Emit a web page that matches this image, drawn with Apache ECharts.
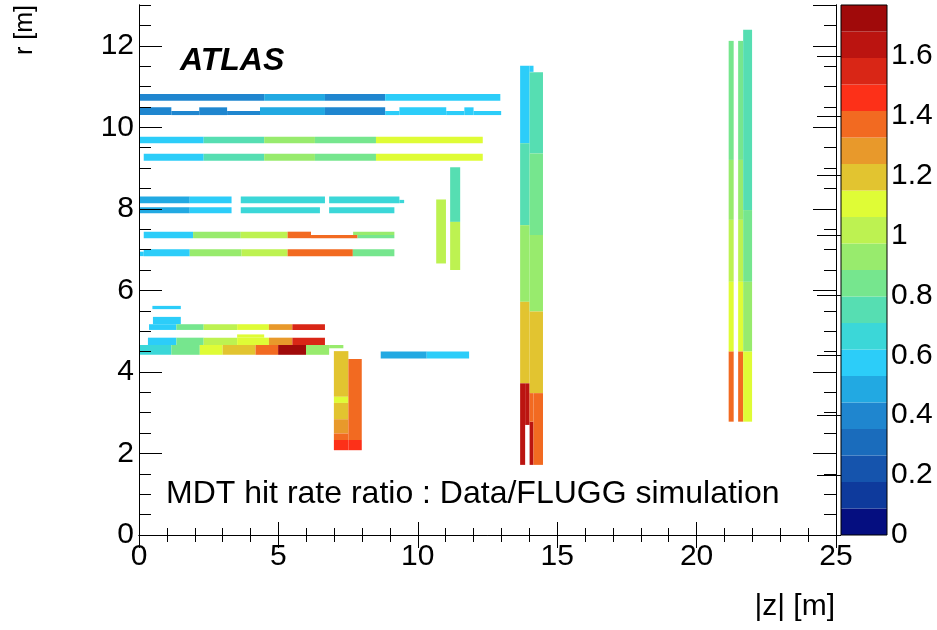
<!DOCTYPE html>
<html>
<head>
<meta charset="utf-8">
<script src="https://cdn.jsdelivr.net/npm/echarts@6/dist/echarts.min.js"></script>
<style>
  html, body { margin: 0; padding: 0; background: #fff; }
  #chart { width: 937px; height: 630px; }
</style>
</head>
<body>
<div id="chart"></div>
<script>
// ---------- DATA ----------
// Each chamber: [zMin, zMax, rMin, rMax, ratio]  (metres, Data/FLUGG ratio)
const barrelOuterTop = [
  [0.00, 4.49, 10.65, 10.82, 0.40], [4.49, 6.67, 10.65, 10.82, 0.49],
  [6.67, 8.83, 10.65, 10.82, 0.40], [8.83, 12.96, 10.65, 10.82, 0.575]
];
const barrelOuterBottom = [
  [0.00, 1.16, 10.30, 10.49, 0.40], [1.16, 2.16, 10.30, 10.40, 0.40],
  [2.16, 3.16, 10.30, 10.49, 0.40], [3.16, 4.34, 10.30, 10.40, 0.40],
  [4.34, 6.67, 10.30, 10.49, 0.49], [6.67, 8.83, 10.30, 10.49, 0.40],
  [8.83, 9.34, 10.30, 10.40, 0.575], [9.34, 11.02, 10.30, 10.49, 0.575],
  [11.02, 11.67, 10.30, 10.40, 0.575], [11.67, 12.00, 10.30, 10.49, 0.575],
  [12.00, 12.99, 10.30, 10.40, 0.575]
];
const barrelOuterLarge = [
  [0.00, 2.32, 9.61, 9.77, 0.575], [2.32, 4.49, 9.61, 9.77, 0.75],
  [4.49, 6.31, 9.61, 9.77, 0.93], [6.31, 8.50, 9.61, 9.77, 0.84],
  [8.50, 12.33, 9.61, 9.77, 1.11],
  [0.17, 2.32, 9.18, 9.35, 0.575], [2.32, 4.49, 9.18, 9.35, 0.75],
  [4.49, 6.31, 9.18, 9.35, 0.93], [6.31, 8.50, 9.18, 9.35, 0.84],
  [8.50, 12.33, 9.18, 9.35, 1.11]
];
const barrelMiddleSmall = [
  [0.00, 1.82, 8.14, 8.30, 0.49], [1.82, 3.32, 8.14, 8.30, 0.575],
  [3.65, 6.67, 8.14, 8.30, 0.66], [6.82, 9.34, 8.14, 8.30, 0.66],
  [9.34, 9.51, 8.14, 8.22, 0.66],
  [0.00, 1.82, 7.89, 8.04, 0.49], [1.82, 3.32, 7.89, 8.04, 0.575],
  [3.65, 6.49, 7.89, 8.04, 0.66], [6.82, 9.16, 7.89, 8.04, 0.66]
];
const barrelMiddleLarge = [
  [0.17, 1.94, 7.28, 7.44, 0.575], [1.94, 3.65, 7.28, 7.44, 0.93],
  [3.65, 5.33, 7.28, 7.44, 1.02], [5.33, 6.17, 7.28, 7.44, 1.37],
  [6.17, 7.84, 7.28, 7.36, 1.37], [7.68, 9.16, 7.36, 7.44, 0.93],
  [7.84, 9.16, 7.28, 7.36, 0.84],
  [0.00, 0.17, 6.84, 6.95, 0.575], [0.17, 1.82, 6.84, 7.01, 0.575],
  [1.82, 3.68, 6.84, 7.01, 0.93], [3.68, 5.33, 6.84, 7.01, 1.02],
  [5.33, 7.67, 6.84, 7.01, 1.37], [7.67, 9.16, 6.84, 7.01, 0.84]
];
const barrelInner = [
  [0.48, 1.50, 5.54, 5.62, 0.575],
  [0.50, 1.50, 5.17, 5.35, 0.575],
  [0.36, 1.34, 5.03, 5.17, 0.575], [1.34, 2.32, 5.03, 5.17, 0.84],
  [2.32, 3.52, 5.03, 5.17, 1.02], [3.52, 4.66, 5.03, 5.17, 1.11],
  [4.66, 5.50, 5.03, 5.17, 1.28], [5.50, 6.67, 5.03, 5.17, 1.55],
  [0.32, 1.34, 4.66, 4.84, 0.575], [1.34, 2.32, 4.66, 4.84, 0.84],
  [2.32, 3.52, 4.66, 4.84, 1.02], [3.52, 4.66, 4.66, 4.84, 1.11],
  [3.52, 4.49, 4.84, 4.92, 1.11], [4.66, 5.50, 4.66, 4.84, 1.28],
  [5.50, 6.67, 4.66, 4.84, 1.55],
  [0.00, 1.16, 4.42, 4.66, 0.66], [1.16, 2.18, 4.42, 4.66, 0.84],
  [2.18, 3.00, 4.42, 4.66, 1.11], [3.00, 4.18, 4.42, 4.66, 1.19],
  [4.18, 4.99, 4.42, 4.66, 1.37], [4.99, 5.99, 4.42, 4.66, 1.73],
  [5.99, 6.82, 4.42, 4.66, 0.93], [6.82, 7.33, 4.58, 4.66, 0.93]
];
const endcapInnerEE = [
  [6.99, 7.51, 3.39, 4.51, 1.19], [6.99, 7.51, 3.24, 3.39, 1.11],
  [6.99, 7.51, 2.84, 3.24, 1.19], [6.99, 7.51, 2.49, 2.84, 1.28],
  [6.99, 7.51, 2.33, 2.49, 1.37], [6.99, 7.51, 2.08, 2.33, 1.46],
  [7.51, 7.99, 2.33, 4.32, 1.37], [7.51, 7.99, 2.08, 2.33, 1.46],
  [8.67, 10.32, 4.33, 4.50, 0.49], [10.32, 11.84, 4.33, 4.50, 0.575],
  [10.66, 11.01, 6.66, 8.23, 1.02],
  [11.16, 11.52, 7.68, 9.02, 0.75], [11.16, 11.52, 6.50, 7.68, 1.02]
];
const endcapMiddle = [
  [13.67, 14.01, 9.61, 11.51, 0.575], [14.01, 14.15, 11.36, 11.51, 0.575],
  [13.67, 14.01, 7.60, 9.61, 0.75], [13.67, 14.01, 5.72, 7.60, 0.93],
  [13.67, 14.01, 3.72, 5.72, 1.19],
  [13.67, 13.85, 1.72, 3.72, 1.64], [13.85, 14.01, 2.70, 3.72, 1.64],
  [14.01, 14.49, 9.36, 11.35, 0.75], [14.01, 14.49, 7.36, 9.36, 0.84],
  [14.01, 14.49, 5.48, 7.36, 0.93], [14.01, 14.49, 3.48, 5.48, 1.19],
  [14.01, 14.15, 1.72, 2.78, 1.64], [14.01, 14.15, 2.78, 3.48, 1.37],
  [14.15, 14.49, 1.72, 3.48, 1.37]
];
const endcapOuter = [
  [21.15, 21.33, 9.20, 12.12, 0.84], [21.15, 21.33, 7.73, 9.20, 0.93],
  [21.15, 21.33, 6.21, 7.73, 1.02], [21.15, 21.33, 4.50, 6.21, 1.11],
  [21.15, 21.33, 2.78, 4.50, 1.37],
  [21.49, 21.67, 9.20, 12.12, 0.84], [21.49, 21.67, 7.73, 9.20, 0.93],
  [21.49, 21.67, 6.21, 7.73, 1.02], [21.49, 21.67, 4.50, 6.21, 1.11],
  [21.49, 21.67, 2.78, 4.50, 1.37],
  [21.67, 21.99, 7.97, 12.39, 0.75], [21.67, 21.99, 6.21, 7.97, 0.84],
  [21.67, 21.99, 4.50, 6.21, 0.93], [21.67, 21.99, 2.78, 4.50, 1.11]
];

// Axis ranges and tick steps
const zRange = [0, 25];
const rRange = [0, 13];
const ratioRange = [0, 1.77];
const zMajor = 5, rMajor = 2, rMinor = 0.5, ratioMajor = 0.2;

// ROOT-style 20-step rainbow palette (low -> high)
const palette = [
  '#050e80', '#0e3a9c', '#1554ad', '#1a6cbc', '#1f86cf',
  '#22a9e2', '#2ccdf9', '#3bd7d8', '#56deb2', '#76e68e',
  '#98eb6d', '#bdf251', '#dffc36', '#e2c430', '#e8992b',
  '#f26a21', '#fd3018', '#d92616', '#bb1410', '#a00a0a'
];

// ---------- CHART ----------
const chambers = [].concat(barrelOuterTop, barrelOuterBottom, barrelOuterLarge,
  barrelMiddleSmall, barrelMiddleLarge, barrelInner, endcapInnerEE, endcapMiddle, endcapOuter);
const bw = (ratioRange[1] - ratioRange[0]) / palette.length;
const bands = palette.map((c, i) => [ratioRange[0] + i * bw, ratioRange[0] + (i + 1) * bw]);

const FONT = 'Liberation Sans';
const black = '#000';
const labelStyle = { fontSize: 30, color: black, fontFamily: FONT };

function frameAxis(extra) {
  return Object.assign({
    type: 'value', z: 10,
    axisLine: { show: true, lineStyle: { color: black, width: 1 } },
    splitLine: { show: false },
    axisLabel: { show: false }
  }, extra);
}

const chart = echarts.init(document.getElementById('chart'), null, { renderer: 'canvas' });
chart.setOption({
  animation: false,
  backgroundColor: '#fff',
  grid: [
    { left: 139, right: 101, top: 5, bottom: 95, containLabel: false },
    { left: 841, right: 50, top: 5, bottom: 95, show: true, borderColor: black, borderWidth: 1,
      backgroundColor: 'transparent', z: 10 }
  ],
  xAxis: [
    frameAxis({ gridIndex: 0, position: 'bottom', min: zRange[0], max: zRange[1], interval: zMajor,
      axisTick: { inside: true, length: 13, lineStyle: { color: black } },
      minorTick: { show: true, splitNumber: 5, length: 7, lineStyle: { color: black } },
      axisLabel: Object.assign({ show: true, margin: 7 }, labelStyle) }),
    frameAxis({ gridIndex: 0, position: 'top', min: zRange[0], max: zRange[1], interval: zMajor,
      axisTick: { inside: true, length: 13, lineStyle: { color: black } },
      minorTick: { show: true, splitNumber: 5, length: 7, lineStyle: { color: black } } }),
    { gridIndex: 1, type: 'value', min: 0, max: 1, show: false }
  ],
  yAxis: [
    frameAxis({ gridIndex: 0, position: 'left', min: rRange[0], max: rRange[1], interval: rMajor,
      axisTick: { inside: true, length: 23, lineStyle: { color: black } },
      axisLabel: Object.assign({ show: true, margin: 5, showMaxLabel: false }, labelStyle) }),
    frameAxis({ gridIndex: 0, position: 'left', min: rRange[0], max: rRange[1], interval: rMinor,
      axisTick: { inside: true, length: 12, lineStyle: { color: black } } }),
    frameAxis({ gridIndex: 0, position: 'right', min: rRange[0], max: rRange[1], interval: rMajor,
      axisTick: { inside: true, length: 23, lineStyle: { color: black } } }),
    frameAxis({ gridIndex: 0, position: 'right', min: rRange[0], max: rRange[1], interval: rMinor,
      axisTick: { inside: true, length: 12, lineStyle: { color: black } } }),
    { gridIndex: 1, type: 'value', position: 'right', min: ratioRange[0], max: ratioRange[1],
      interval: ratioMajor, z: 11,
      axisLine: { show: false }, splitLine: { show: false },
      axisTick: { inside: true, length: 24, lineStyle: { color: black } },
      axisLabel: Object.assign({ margin: 4, showMaxLabel: false }, labelStyle) }
  ],
  visualMap: {
    type: 'piecewise', show: false, dimension: 4, seriesIndex: 0,
    pieces: bands.map((b, i) => ({ gte: b[0], lt: b[1], color: palette[i] }))
  },
  series: [
    {
      type: 'custom', name: 'MDT chambers', xAxisIndex: 0, yAxisIndex: 0,
      encode: { x: [0, 1], y: [2, 3] },
      data: chambers,
      renderItem: function (params, api) {
        const p0 = api.coord([api.value(0), api.value(3)]);
        const p1 = api.coord([api.value(1), api.value(2)]);
        return {
          type: 'rect',
          shape: { x: p0[0], y: p0[1], width: p1[0] - p0[0], height: p1[1] - p0[1] },
          style: { fill: api.visual('color') }
        };
      }
    },
    {
      type: 'custom', name: 'palette', xAxisIndex: 2, yAxisIndex: 4,
      encode: { y: [0, 1] },
      data: bands,
      renderItem: function (params, api) {
        const p0 = api.coord([0, api.value(1)]);
        const p1 = api.coord([1, api.value(0)]);
        return {
          type: 'rect',
          shape: { x: p0[0], y: p0[1], width: p1[0] - p0[0], height: p1[1] - p0[1] },
          style: { fill: palette[params.dataIndex] }
        };
      }
    }
  ],
  graphic: [
    { type: 'text', x: 180, y: 61, z: 20,
      style: { text: 'ATLAS', font: 'italic bold 32px "Liberation Sans"', fill: black,
        align: 'left', verticalAlign: 'middle' } },
    { type: 'text', x: 166, y: 494, z: 20,
      style: { text: 'MDT hit rate ratio : Data/FLUGG simulation', font: '32px "Liberation Sans"',
        fill: black, align: 'left', verticalAlign: 'middle' } },
    { type: 'text', x: 835, y: 607, z: 20,
      style: { text: '|z| [m]', font: '30px "Liberation Sans"', fill: black,
        align: 'right', verticalAlign: 'middle' } },
    { type: 'text', x: 25, y: 5, z: 20, rotation: Math.PI / 2,
      style: { text: 'r [m]', font: '25px "Liberation Sans"', fill: black,
        align: 'right', verticalAlign: 'middle' } }
  ]
});
</script>
</body>
</html>
